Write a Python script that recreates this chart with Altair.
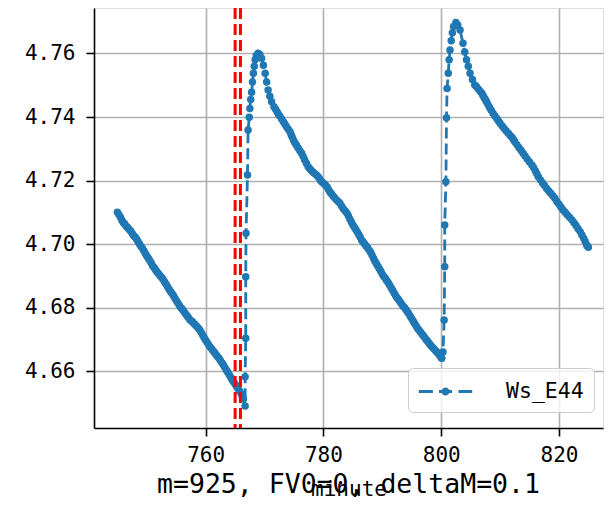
import altair as alt
import pandas as pd

series_name = "Ws_E44"
title_text = "m=925, FV0=0, deltaM=0.1"
x_title = "minute"

# first falling stretch
seg1_minutes = [
    745.0, 745.25, 745.5, 745.75, 746.0, 746.25, 746.5, 746.75, 747.0, 747.25,
    747.5, 747.75, 748.0, 748.25, 748.5, 748.75, 749.0, 749.25, 749.5, 749.75,
    750.0, 750.25, 750.5, 750.75, 751.0, 751.25, 751.5, 751.75, 752.0, 752.25,
    752.5, 752.75, 753.0, 753.25, 753.5, 753.75, 754.0, 754.25, 754.5, 754.75,
    755.0, 755.25, 755.5, 755.75, 756.0, 756.25, 756.5, 756.75, 757.0, 757.25,
    757.5, 757.75, 758.0, 758.25, 758.5, 758.75, 759.0, 759.25, 759.5, 759.75,
    760.0, 760.25, 760.5, 760.75, 761.0, 761.25, 761.5, 761.75, 762.0, 762.25,
    762.5, 762.75, 763.0, 763.25, 763.5, 763.75, 764.0, 764.25, 764.5, 764.75,
    765.0, 765.25, 765.5, 765.75, 766.0, 766.2, 766.4, 766.7,
]
seg1_ws = [
    4.7100, 4.7093, 4.7085, 4.7075, 4.7068, 4.7063, 4.7056, 4.7052, 4.7046, 4.7041,
    4.7034, 4.7027, 4.7022, 4.7016, 4.7008, 4.7000, 4.6993, 4.6987, 4.6979, 4.6970,
    4.6962, 4.6955, 4.6948, 4.6940, 4.6931, 4.6925, 4.6918, 4.6912, 4.6906, 4.6900,
    4.6895, 4.6889, 4.6881, 4.6874, 4.6866, 4.6858, 4.6851, 4.6845, 4.6838, 4.6830,
    4.6822, 4.6815, 4.6807, 4.6800, 4.6795, 4.6789, 4.6782, 4.6776, 4.6770, 4.6763,
    4.6758, 4.6755, 4.6750, 4.6745, 4.6740, 4.6735, 4.6729, 4.6721, 4.6713, 4.6705,
    4.6697, 4.6690, 4.6683, 4.6676, 4.6670, 4.6664, 4.6658, 4.6652, 4.6646, 4.6640,
    4.6633, 4.6626, 4.6619, 4.6611, 4.6603, 4.6596, 4.6588, 4.6580, 4.6572, 4.6565,
    4.6558, 4.6551, 4.6544, 4.6537, 4.6530, 4.6522, 4.6512, 4.6490,
]

# first jump and second falling stretch
seg2_minutes = [
    766.7, 766.8, 766.8, 766.85, 767.1, 767.2, 767.4, 767.5, 767.65, 767.8,
    767.95, 768.1, 768.25, 768.4, 768.6, 768.9, 769.2, 769.5, 769.8, 770.1,
    770.35, 770.6, 770.9, 771.2, 771.6, 771.85, 772.1, 772.35, 772.6, 772.9,
    773.2, 773.45, 773.7, 774.0, 774.3, 774.5, 774.7, 774.95, 775.2, 775.45,
    775.7, 776.0, 776.3, 776.55, 776.8, 777.1, 777.4, 777.65, 777.9, 778.2,
    778.5, 778.8, 779.1, 779.35, 779.6, 779.85, 780.1, 780.35, 780.6, 780.85,
    781.1, 781.35, 781.6, 781.9, 782.2, 782.5, 782.8, 783.1, 783.4, 783.7,
    784.0, 784.25, 784.5, 784.75, 785.0, 785.25, 785.5, 785.75, 786.0, 786.25,
    786.5, 786.75, 787.0, 787.25, 787.5, 787.75, 788.0, 788.25, 788.5, 788.75,
    789.0, 789.25, 789.5, 789.75, 790.0, 790.25, 790.5, 790.75, 791.0, 791.25,
    791.5, 791.75, 792.0, 792.25, 792.5, 792.75, 793.0, 793.25, 793.5, 793.75,
    794.0, 794.25, 794.5, 794.75, 795.0, 795.25, 795.5, 795.75, 796.0, 796.25,
    796.5, 796.75, 797.0, 797.25, 797.5, 797.75, 798.0, 798.25, 798.5, 798.75,
    799.0, 799.25, 799.5, 799.75, 800.0, 800.1, 800.3,
]
seg2_ws = [
    4.6582, 4.6703, 4.6897, 4.7034, 4.7217, 4.7359, 4.7399, 4.7427, 4.7455, 4.7478,
    4.7510, 4.7538, 4.7560, 4.7580, 4.7594, 4.7601, 4.7597, 4.7585, 4.7563, 4.7538,
    4.7510, 4.7485, 4.7465, 4.7448, 4.7432, 4.7425, 4.7417, 4.7409, 4.7402, 4.7394,
    4.7385, 4.7378, 4.7370, 4.7362, 4.7354, 4.7345, 4.7336, 4.7326, 4.7317, 4.7310,
    4.7302, 4.7294, 4.7286, 4.7276, 4.7265, 4.7254, 4.7243, 4.7238, 4.7232, 4.7227,
    4.7222, 4.7217, 4.7212, 4.7205, 4.7198, 4.7194, 4.7190, 4.7185, 4.7180, 4.7172,
    4.7164, 4.7158, 4.7152, 4.7146, 4.7139, 4.7134, 4.7128, 4.7119, 4.7110, 4.7104,
    4.7097, 4.7088, 4.7078, 4.7069, 4.7060, 4.7053, 4.7046, 4.7038, 4.7030, 4.7021,
    4.7012, 4.7006, 4.7000, 4.6994, 4.6988, 4.6981, 4.6974, 4.6965, 4.6955, 4.6946,
    4.6938, 4.6930, 4.6922, 4.6914, 4.6905, 4.6898, 4.6892, 4.6885, 4.6878, 4.6870,
    4.6862, 4.6854, 4.6846, 4.6838, 4.6831, 4.6825, 4.6818, 4.6812, 4.6805, 4.6800,
    4.6794, 4.6787, 4.6780, 4.6772, 4.6765, 4.6757, 4.6750, 4.6742, 4.6734, 4.6728,
    4.6722, 4.6716, 4.6710, 4.6704, 4.6698, 4.6692, 4.6686, 4.6680, 4.6675, 4.6670,
    4.6665, 4.6660, 4.6655, 4.6649, 4.6642, 4.6640, 4.6660,
]

# second jump and third falling stretch
seg3_minutes = [
    800.5, 800.6, 800.6, 800.8, 800.9, 801.0, 801.2, 801.35, 801.5, 801.7,
    801.9, 802.1, 802.5, 802.8, 803.2, 803.7, 804.0, 804.3, 804.6, 804.9,
    805.3, 805.7, 806.0, 806.3, 806.6, 806.9, 807.1, 807.3, 807.5, 807.7,
    807.95, 808.2, 808.5, 808.8, 809.1, 809.4, 809.7, 810.0, 810.35, 810.7,
    811.05, 811.4, 811.7, 812.0, 812.25, 812.5, 812.85, 813.2, 813.55, 813.9,
    814.25, 814.6, 815.0, 815.4, 815.7, 816.0, 816.25, 816.5, 816.85, 817.2,
    817.55, 817.9, 818.25, 818.6, 818.95, 819.3, 819.65, 820.0, 820.35, 820.7,
    821.05, 821.4, 821.8, 822.2, 822.55, 822.9, 823.25, 823.6, 823.9, 824.2,
    824.45, 824.7, 824.85, 825.0,
]
seg3_ws = [
    4.6761, 4.6928, 4.7060, 4.7196, 4.7398, 4.7490, 4.7538, 4.7580, 4.7611, 4.7640,
    4.7665, 4.7685, 4.7698, 4.7690, 4.7674, 4.7632, 4.7605, 4.7580, 4.7560, 4.7538,
    4.7518, 4.7501, 4.7495, 4.7488, 4.7481, 4.7475, 4.7468, 4.7461, 4.7455, 4.7448,
    4.7439, 4.7430, 4.7421, 4.7412, 4.7404, 4.7396, 4.7388, 4.7380, 4.7372, 4.7364,
    4.7356, 4.7349, 4.7342, 4.7336, 4.7329, 4.7322, 4.7313, 4.7304, 4.7295, 4.7286,
    4.7277, 4.7268, 4.7258, 4.7249, 4.7240, 4.7230, 4.7221, 4.7212, 4.7202, 4.7192,
    4.7184, 4.7175, 4.7167, 4.7160, 4.7152, 4.7144, 4.7134, 4.7125, 4.7116, 4.7107,
    4.7100, 4.7092, 4.7084, 4.7076, 4.7067, 4.7058, 4.7048, 4.7039, 4.7028, 4.7018,
    4.7008, 4.6997, 4.6993, 4.6990,
]

red_lines = [765.0, 765.9]
x_ticks = [760, 780, 800, 820]
y_ticks = [4.66, 4.68, 4.70, 4.72, 4.74, 4.76]

df = pd.DataFrame({
    "minute": seg1_minutes + seg2_minutes + seg3_minutes,
    "ws": seg1_ws + seg2_ws + seg3_ws,
})
df["i"] = range(len(df))
df["series"] = series_name
red_df = pd.DataFrame({"minute": red_lines})

FONT = "DejaVu Sans Mono"
BLUE = "#1f77b4"

xs = alt.Scale(domain=[741.03, 827.48], nice=False, zero=False)
ys = alt.Scale(domain=[4.64205, 4.77433], nice=False, zero=False)

x_axis = alt.Axis(
    values=x_ticks, format="d", title=x_title,
    titleFont=FONT, titleFontSize=21, titleFontWeight="normal", titleColor="black",
    titleBaseline="alphabetic", titleY=67,
    labelFont=FONT, labelFontSize=21, labelColor="black", labelPadding=8,
    tickSize=8, tickWidth=1.6, tickColor="black",
    domainColor="black", domainWidth=1.6,
    grid=True, gridColor="#b0b0b0", gridWidth=1.6,
)
y_axis = alt.Axis(
    values=y_ticks, format=".2f", title=None,
    labelFont=FONT, labelFontSize=21, labelColor="black", labelPadding=11,
    tickSize=8, tickWidth=1.6, tickColor="black",
    domainColor="black", domainWidth=1.6,
    grid=True, gridColor="#b0b0b0", gridWidth=1.6,
)

x_enc = alt.X("minute:Q", scale=xs, axis=x_axis)
y_enc = alt.Y("ws:Q", scale=ys, axis=y_axis)

legend_symbol = (
    "M-1.98,-0.12L-0.94,-0.12L-0.94,0.12L-1.98,0.12Z "
    "M-0.48,-0.12L0.48,-0.12L0.48,0.12L-0.48,0.12Z "
    "M0.96,-0.12L1.98,-0.12L1.98,0.12L0.96,0.12Z "
    "M0.3,0A0.3,0.3,0,1,1,-0.3,0A0.3,0.3,0,1,1,0.3,0Z"
)

line = alt.Chart(df).mark_line(
    color=BLUE, strokeWidth=2.8, strokeDash=[11, 5]
).encode(x=x_enc, y=y_enc, order="i:Q")

points = alt.Chart(df).mark_point(
    filled=True, size=56, opacity=1
).encode(
    x=x_enc, y=y_enc,
    color=alt.Color(
        "series:N",
        scale=alt.Scale(domain=[series_name], range=[BLUE]),
        legend=alt.Legend(
            title=None, orient="none", legendX=314, legendY=360,
            fillColor="rgba(255,255,255,0.8)", strokeColor="#cccccc",
            cornerRadius=5, padding=10,
            labelFont=FONT, labelFontSize=21.5, labelColor="black",
            symbolType=legend_symbol, symbolSize=729, symbolOffset=14,
            symbolStrokeWidth=0, symbolFillColor=BLUE, symbolOpacity=1,
            labelOffset=47,
        ),
    ),
)

red = alt.Chart(red_df).mark_rule(
    color="#ff0000", strokeWidth=3, strokeDash=[11, 5]
).encode(x=x_enc)

chart = alt.layer(line, points, red).properties(
    width=509, height=420,
    padding={"left": 86, "top": 0, "right": 2, "bottom": 78},
    autosize=alt.AutoSizeParams(type="none"),
    title=alt.TitleParams(
        text=title_text, orient="bottom", anchor="middle", frame="group",
        font=FONT, fontSize=26.5, fontWeight="normal", color="black",
        baseline="alphabetic", dy=-10,
    ),
).configure_view(
    stroke="black", strokeWidth=1.6
).configure(background="white")

chart.save("out.html", embed_options={"renderer": "svg", "actions": False})
